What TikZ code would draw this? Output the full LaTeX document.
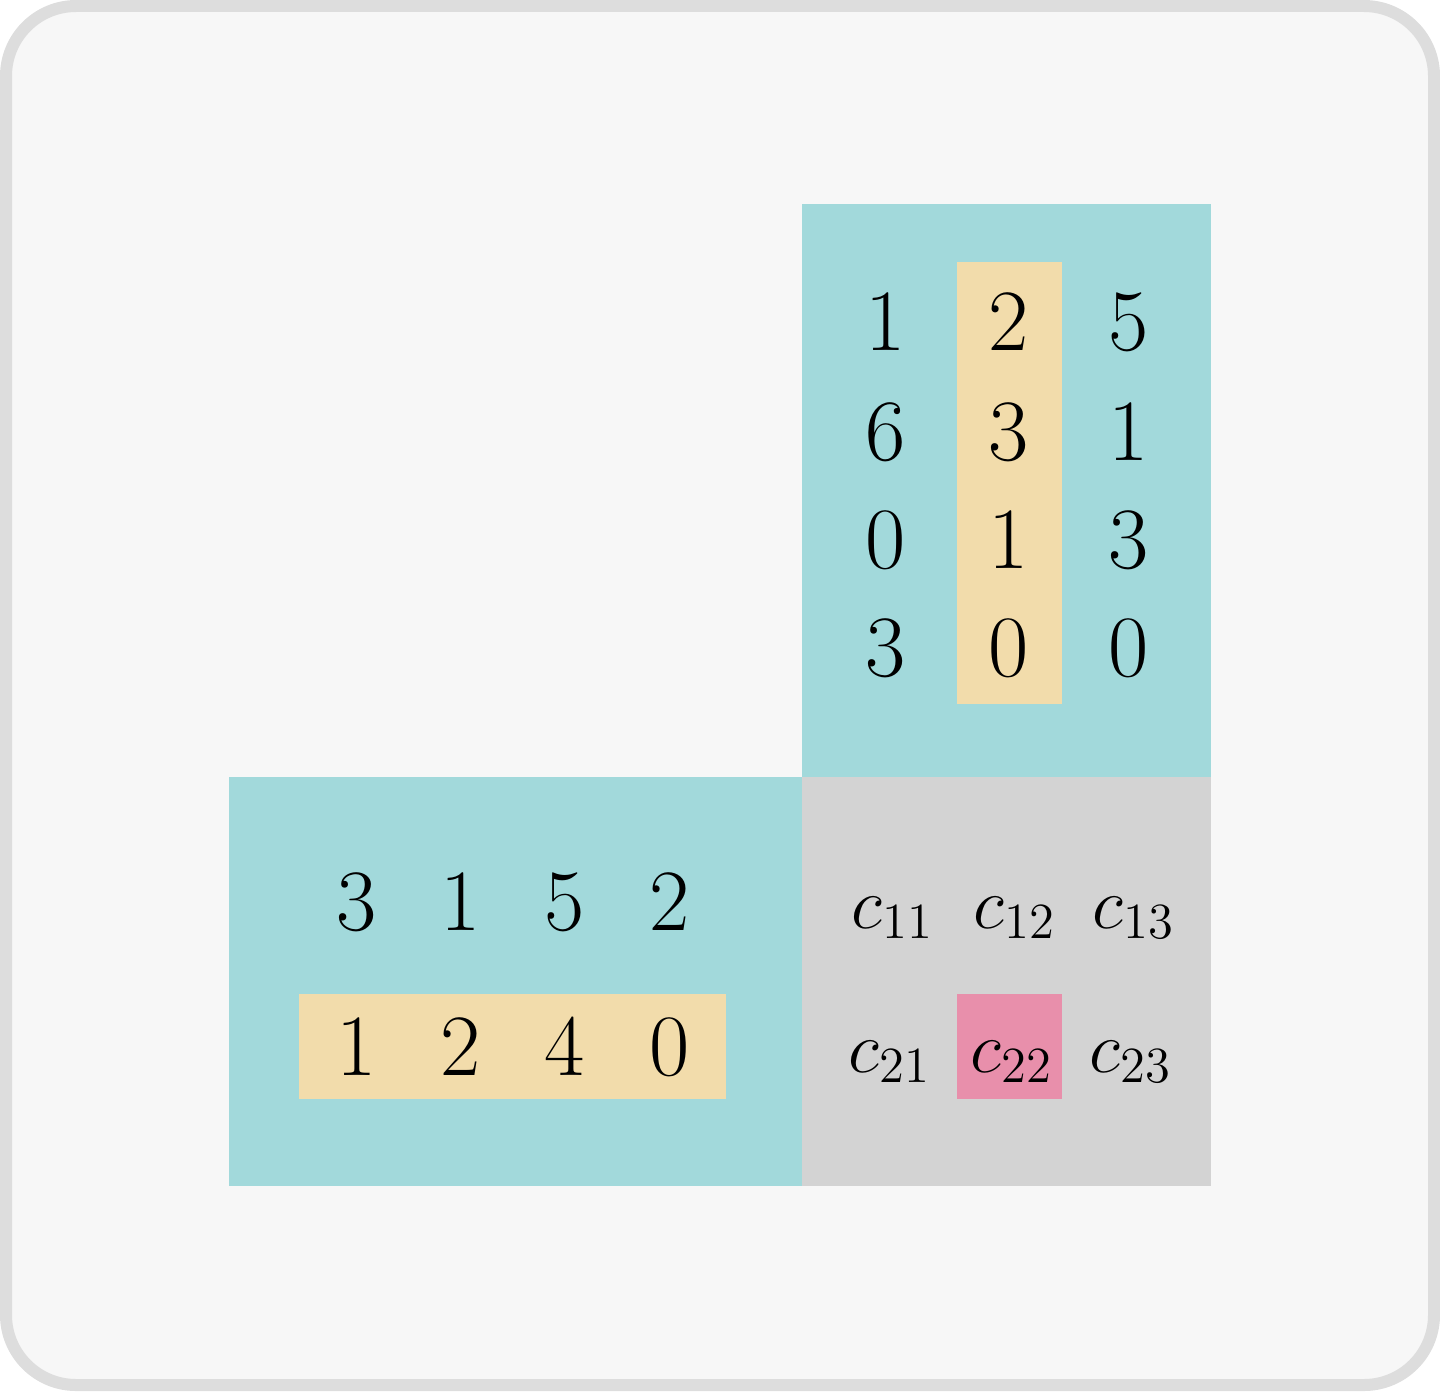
\documentclass[tikz,border=0pt]{standalone}
\definecolor{bgc}{HTML}{F7F7F7}
\definecolor{edgec}{HTML}{DDDDDD}
\definecolor{tealc}{HTML}{A2D9DB}
\definecolor{yelc}{HTML}{F2DCAB}
\definecolor{grayc}{HTML}{D3D3D3}
\definecolor{pinkc}{HTML}{E88FAB}
\begin{document}
\begin{tikzpicture}[x=0.01cm,y=-0.01cm,
  num/.style={inner sep=0pt,anchor=center,font=\fontsize{23.3}{28}\selectfont},
  cel/.style={inner sep=0pt,anchor=base,font=\fontsize{21}{25}\selectfont}]
\useasboundingbox (0,0) rectangle (1440,1391);
\draw[edgec,fill=bgc,line width=0.12cm,rounded corners=0.7cm] (6,6) rectangle (1434,1385);
% blocks
\fill[tealc] (802,204) rectangle (1211,777);
\fill[tealc] (229,777) rectangle (802,1186);
\fill[grayc] (802,777) rectangle (1211,1186);
\fill[yelc] (957,262) rectangle (1062,704);
\fill[yelc] (299,994) rectangle (726,1099);
\fill[pinkc] (957,994) rectangle (1062,1099);
% top-right matrix
\node[num] (b11) at (886,322) {$1$};
\node[num] (b12) at (1009,322) {$2$};
\node[num] (b13) at (1129,322) {$5$};
\node[num] (b21) at (886,432) {$6$};
\node[num] (b22) at (1009,432) {$3$};
\node[num] (b23) at (1129,432) {$1$};
\node[num] (b31) at (886,540) {$0$};
\node[num] (b32) at (1009,540) {$1$};
\node[num] (b33) at (1129,540) {$3$};
\node[num] (b41) at (886,648) {$3$};
\node[num] (b42) at (1009,648) {$0$};
\node[num] (b43) at (1129,648) {$0$};
% bottom-left matrix
\node[num] (a11) at (357,902) {$3$};
\node[num] (a12) at (461,902) {$1$};
\node[num] (a13) at (565,902) {$5$};
\node[num] (a14) at (670,902) {$2$};
\node[num] (a21) at (357,1047) {$1$};
\node[num] (a22) at (461,1047) {$2$};
\node[num] (a23) at (565,1047) {$4$};
\node[num] (a24) at (670,1047) {$0$};
% result
\node[cel] (c11) at (893,928) {$c_{11}$};
\node[cel] (c12) at (1015,928) {$c_{12}$};
\node[cel] (c13) at (1134,928) {$c_{13}$};
\node[cel] (c21) at (890,1072) {$c_{21}$};
\node[cel] (c22) at (1012,1072) {$c_{22}$};
\node[cel] (c23) at (1131,1072) {$c_{23}$};
\end{tikzpicture}
\end{document}
